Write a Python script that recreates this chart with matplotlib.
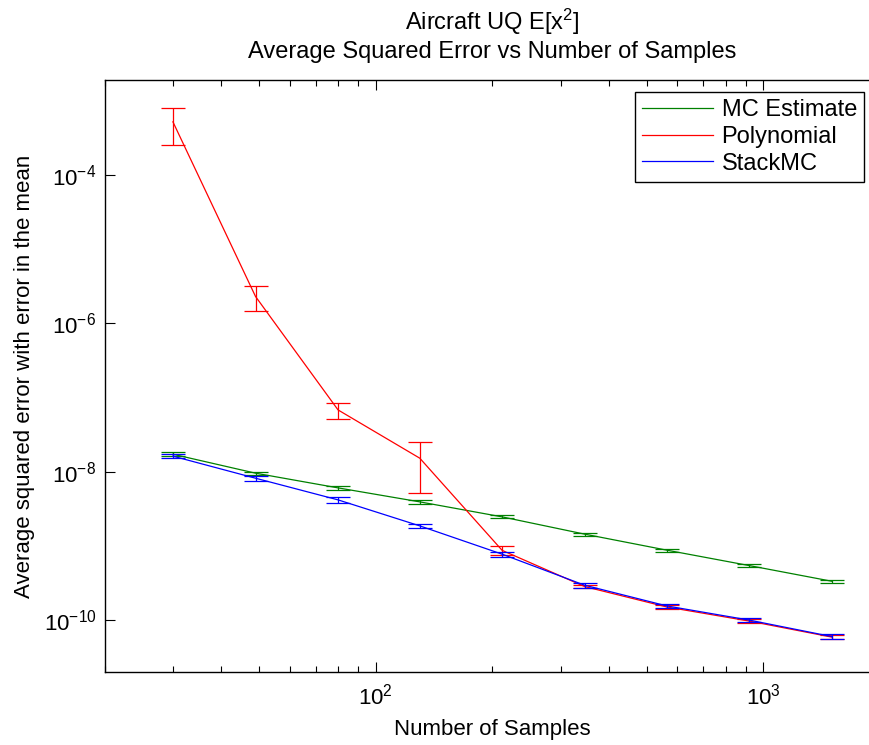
import numpy as np
import matplotlib
matplotlib.use("Agg")
import matplotlib.pyplot as plt
from matplotlib.ticker import LogLocator, NullLocator, NullFormatter

plt.rcParams['font.family'] = ['Liberation Sans', 'DejaVu Sans']
plt.rcParams['mathtext.fontset'] = 'custom'
plt.rcParams['mathtext.rm'] = 'Liberation Sans'
plt.rcParams['mathtext.it'] = 'Liberation Sans'
plt.rcParams['mathtext.default'] = 'regular'

# Number of samples
n = [30, 49, 80, 130, 212, 346, 564, 919, 1500]

# MC estimate
mc = [1.72e-8, 9.55e-9, 6.05e-9, 3.92e-9, 2.46e-9, 1.44e-9, 8.75e-10, 5.43e-10, 3.34e-10]
mc_err = [1.0e-9, 5e-10, 3e-10, 2e-10, 1.2e-10, 6e-11, 4e-11, 2.5e-11, 1.5e-11]

# Polynomial fit
poly = [5.2e-4, 2.3e-6, 6.8e-8, 1.52e-8, 8.7e-10, 2.83e-10, 1.50e-10, 9.7e-11, 5.9e-11]
poly_err = [2.7e-4, 8.5e-7, 1.6e-8, 1.0e-8, 1.2e-10, 1.5e-11, 1e-11, 6e-12, 4e-12]

# StackMC
smc = [1.62e-8, 8.17e-9, 4.17e-9, 1.86e-9, 7.73e-10, 2.95e-10, 1.55e-10, 1.0e-10, 6.0e-11]
smc_err = [9e-10, 6e-10, 3.5e-10, 1.3e-10, 6e-11, 2.5e-11, 1e-11, 7e-12, 4e-12]

series = [("MC Estimate", mc, mc_err, (0, 0.5, 0)),
          ("Polynomial", poly, poly_err, (1, 0, 0)),
          ("StackMC", smc, smc_err, (0, 0, 1))]

fig = plt.figure(figsize=(8.7, 7.45), dpi=100)
ax = fig.add_axes([0.1203, 0.098, 0.8912, 0.7946])

for label, y, e, c in series:
    ax.plot(n, y, color=c, lw=0.9, label=label)
    ax.errorbar(n, y, yerr=e, fmt='none', ecolor=c, elinewidth=0.9,
                capsize=8.6, capthick=0.9)

ax.set_xscale('log')
ax.set_yscale('log')
ax.set_xlim(20, 2000)
ax.set_ylim(10**-10.70, 10**-2.72)

ax.set_yticks([1e-10, 1e-8, 1e-6, 1e-4])
ax.yaxis.set_minor_locator(NullLocator())
ax.xaxis.set_major_locator(LogLocator(base=10))
ax.xaxis.set_minor_locator(LogLocator(base=10, subs=np.arange(2, 10)))
ax.xaxis.set_minor_formatter(NullFormatter())

ax.tick_params(which='both', direction='in', top=True, right=True,
               labelsize=16, width=0.8)
ax.tick_params(which='major', length=7)
ax.tick_params(which='minor', length=4)
ax.tick_params(axis='x', pad=8)
ax.tick_params(axis='y', pad=6)
for s in ax.spines.values():
    s.set_linewidth(1.0)

ax.set_xlabel("Number of Samples", fontsize=16, labelpad=7)
ax.set_ylabel("Average squared error with error in the mean", fontsize=16, labelpad=6)
ax.set_title("Aircraft UQ E[x$^{2}$]\nAverage Squared Error vs Number of Samples",
             fontsize=17, pad=16, linespacing=1.25)

leg = ax.legend(loc='upper right', bbox_to_anchor=(864 / 870, 1 - 92 / 745),
                bbox_transform=fig.transFigure, fontsize=17, fancybox=False,
                framealpha=1, edgecolor='black', handlelength=3.0,
                handletextpad=0.35, borderpad=0.3, labelspacing=0.2,
                borderaxespad=0)
leg.get_frame().set_linewidth(1.0)

fig.savefig("out.png", dpi=100)
